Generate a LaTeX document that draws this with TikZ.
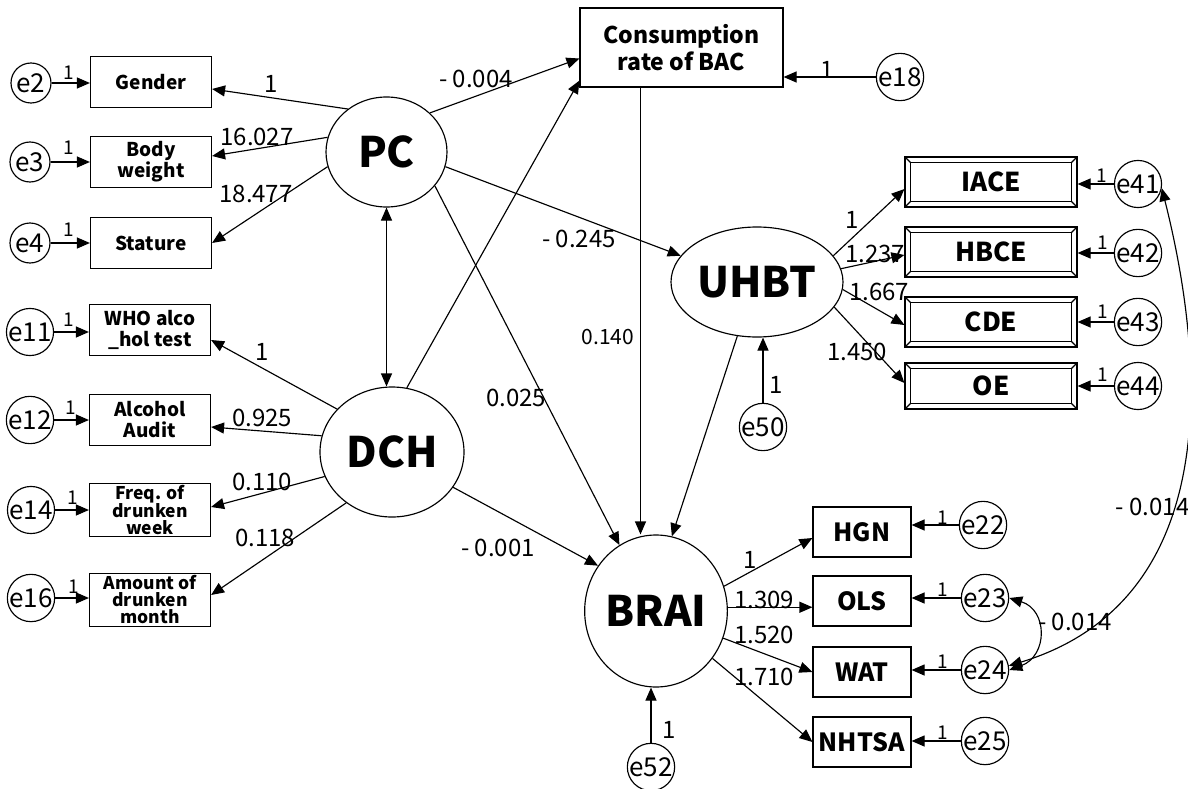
\documentclass[tikz,border=0pt]{standalone}
\usepackage{fontspec}
\setmainfont{Noto Sans CJK KR}
\usetikzlibrary{arrows.meta,shapes.geometric}

\begin{document}
\begin{tikzpicture}[
        x=1pt, y=-1pt,
        line width=1.15pt,
        arr/.style={-{Triangle[length=13pt,width=11pt]}},
        dbl/.style={{Triangle[length=13pt,width=11pt]}-{Triangle[length=13pt,width=11pt]}},
        obs/.style={draw, inner sep=0pt, align=center, minimum width=121pt, minimum height=51pt, font=\bfseries\fontsize{19}{21}\selectfont},
        tight/.style={font=\bfseries\fontsize{17.5}{17}\selectfont},
        ind/.style={draw, inner sep=0pt, minimum width=172pt, minimum height=50pt, font=\bfseries\fontsize{26}{28}\selectfont},
        brx/.style={draw, inner sep=0pt, minimum width=98pt, minimum height=50pt, font=\bfseries\fontsize{25}{27}\selectfont},
        lat/.style={draw, ellipse, inner sep=0pt, font=\bfseries\fontsize{42}{44}\selectfont},
        err/.style={draw, circle, inner sep=0pt, minimum size=40pt, font=\fontsize{26}{26}\selectfont},
        num/.style={inner sep=0pt, font=\fontsize{24}{24}\selectfont},
        one/.style={inner sep=0pt, font=\fontsize{19}{19}\selectfont}
    ]
        \useasboundingbox (0,0) rectangle (1188,789);

        % latent variables
        \node[lat, minimum width=121pt, minimum height=110pt] (pc) at (386.5,152) {PC};
        \node[lat, minimum width=144pt, minimum height=130pt] (dch) at (392,452) {DCH};
        \node[lat, minimum width=172pt, minimum height=110pt] (uhbt) at (757,282) {UHBT};
        \node[lat, minimum width=132pt, minimum height=152pt] (brai) at (656,611) {BRAI};

        % left indicators
        \node[obs] (gender) at (151,82) {Gender};
        \node[obs] (body) at (151,162) {Body\\weight};
        \node[obs] (stature) at (151,243) {Stature};
        \node[obs] (who) at (150,330) {WHO alco\\\_hol test};
        \node[obs] (audit) at (150,420) {Alcohol\\Audit};
        \node[obs, tight, minimum height=53pt] (freq) at (150,510) {Freq. of\\drunken\\week};
        \node[obs, tight, minimum height=53pt] (amount) at (150,600) {Amount of\\drunken\\month};
        \node[obs, minimum width=203pt, minimum height=79pt, font=\bfseries\fontsize{23}{27}\selectfont] (bac) at (681.5,47.5) {Consumption\\rate of BAC};

        % right indicators
        \node[ind] (iace) at (991,182) {IACE};
        \node[ind] (hbce) at (991,252) {HBCE};
        \node[ind] (cde) at (991,322) {CDE};
        \node[ind, minimum height=46pt] (oe) at (991,386) {OE};
        \node[brx] (hgn) at (862,532) {HGN};
        \node[brx] (ols) at (862,601) {OLS};
        \node[brx] (wat) at (862,672) {WAT};
        \node[brx] (nhtsa) at (862,742) {NHTSA};
        \foreach \n in {iace,hbce,cde,oe} {
            \draw ([shift={(6,6)}]\n.north west) rectangle ([shift={(-6,-6)}]\n.south east);
            \draw (\n.north west) -- ++(6,6);
            \draw (\n.north east) -- ++(-6,6);
            \draw (\n.south west) -- ++(6,-6);
            \draw (\n.south east) -- ++(-6,-6);
        }

        % error terms
        \node[err] (e2) at (31,83) {e2};
        \node[err] (e3) at (30,162) {e3};
        \node[err] (e4) at (30,243) {e4};
        \node[err] (e11) at (30,332) {e11};
        \node[err] (e12) at (30,420) {e12};
        \node[err] (e14) at (31,510) {e14};
        \node[err] (e16) at (31,598) {e16};
        \node[err] (e18) at (900,77) {e18};
        \node[err] (e41) at (1138,184) {e41};
        \node[err] (e42) at (1138,253) {e42};
        \node[err] (e43) at (1138,322) {e43};
        \node[err] (e44) at (1138,386) {e44};
        \node[err] (e50) at (763,427) {e50};
        \node[err] (e22) at (983,525) {e22};
        \node[err] (e23) at (985,598) {e23};
        \node[err] (e24) at (985,670) {e24};
        \node[err] (e25) at (985,741) {e25};
        \node[err] (e52) at (651,767) {e52};

        \foreach \e/\b in {e2/gender,e3/body,e4/stature,e11/who,e12/audit,e14/freq,e16/amount}
            \draw[arr] (\e) -- (\e -| \b.west);
        \foreach \e/\b in {e18/bac,e41/iace,e42/hbce,e43/cde,e44/oe,e22/hgn,e23/ols,e24/wat,e25/nhtsa}
            \draw[arr] (\e) -- (\e -| \b.east);
        \draw[arr] (e50) -- (e50 |- uhbt.south);
        \draw[arr] (e52) -- (e52 |- brai.south);

        % paths
        \draw[arr] (pc.132) -- ([yshift=-7pt]gender.east);
        \draw[arr] (pc.166) -- ([yshift=6pt]body.east);
        \draw[arr] (pc.194) -- (stature.east);
        \draw[arr] (pc.42) -- ([yshift=-11pt]bac.west);
        \draw[arr] (pc.346) -- (uhbt.161);
        \draw[arr] (pc.325) -- (brai.119);
        \draw[dbl] (pc.south) -- (pc.south |- dch.north);
        \draw[arr] (dch.77) -- ([yshift=7pt]bac.south west);
        \draw[arr] (dch.142) -- ([yshift=-10pt]who.east);
        \draw[arr] (dch.167) -- ([yshift=-7pt]audit.east);
        \draw[arr] (dch.200) -- ([yshift=3pt]freq.east);
        \draw[arr] (dch.228) -- ([yshift=5pt]amount.east);
        \draw[arr] (dch.330) -- (brai.142);
        \draw[arr] ([xshift=-41pt]bac.south) -- ([xshift=-41pt]bac.south |- brai.north);
        \draw[arr] (uhbt.250) -- (brai.78);
        \draw[arr] (uhbt.19) -- ([yshift=-7pt]iace.west);
        \draw[arr] (uhbt.9) -- ([yshift=-3pt]hbce.west);
        \draw[arr] (uhbt.355) -- ([yshift=-3pt]cde.west);
        \draw[arr] (uhbt.342) -- ([yshift=3pt]oe.west);
        \draw[arr] (brai.20) -- ([yshift=-6pt]hgn.west);
        \draw[arr] (brai.3) -- (brai.3 -| ols.west);
        \draw[arr] (brai.338) -- (wat.west);
        \draw[arr] (brai.320) -- (nhtsa.west);

        % covariances
        \draw[dbl] (e23.east) .. controls (1048,610) and (1048,656) .. (e24.east);
        \draw[dbl] (e41.350) .. controls (1205,360) and (1225,600) .. (e24.10);

        % estimates
        \node[num] (w1) at (271,84) {1};
        \node[num] (w2) at (257,137) {16.027};
        \node[num] (w3) at (256,194) {18.477};
        \node[num] (w4) at (262,352) {1};
        \node[num] (w5) at (262,418) {0.925};
        \node[num] (w6) at (262,482) {0.110};
        \node[num] (w7) at (265,538) {0.118};
        \node[num] (w8) at (476,79) {- 0.004};
        \node[num] (w9) at (579,239) {- 0.245};
        \node[num, font=\fontsize{21}{21}\selectfont] (w10) at (608,337) {0.140};
        \node[num] (w11) at (516,398) {0.025};
        \node[num] (w12) at (498,548) {- 0.001};
        \node[num] (w13) at (852,220) {1};
        \node[num] (w14) at (875,254) {1.237};
        \node[num] (w15) at (879,292) {1.667};
        \node[num] (w16) at (857,352) {1.450};
        \node[num] (w17) at (750,560) {1};
        \node[num] (w18) at (764,600) {1.309};
        \node[num] (w19) at (764,635) {1.520};
        \node[num] (w20) at (764,677) {1.710};
        \node[num] (w21) at (1075,622) {- 0.014};
        \node[num, anchor=east] (w22) at (1190,507) {- 0.014};
        \node[num] (w23) at (776,385) {1};
        \node[num] (w24) at (669,730) {1};
        \node[num] (w25) at (827,70) {1};

        \foreach \n/\x/\y in {2/69/73,3/69/148,4/69/230,11/69/320,12/71/408,14/73/498,16/74/587,
                41/1102/176,42/1103/243,43/1103/312,44/1103/375,22/943/518,23/943/590,24/943/662,25/943/733}
            \node[one] (o\n) at (\x,\y) {1};
    \end{tikzpicture}
\end{document}
